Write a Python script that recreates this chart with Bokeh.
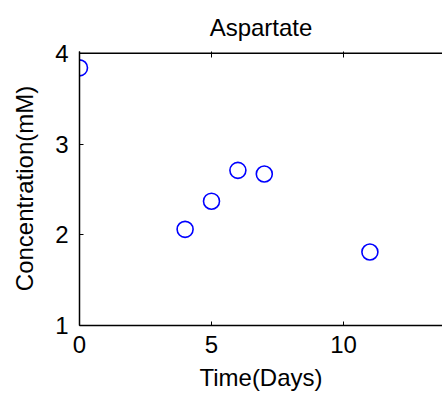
from bokeh.plotting import figure
from bokeh.models import FixedTicker, Range1d, LinearAxis, Span
from bokeh.embed import file_html
from bokeh.resources import INLINE

days = [0, 4, 5, 6, 7, 11]
concentration = [3.84, 2.06, 2.37, 2.71, 2.67, 1.81]
x_ticks = [0, 5, 10]
y_ticks = [1, 2, 3, 4]
x_max = 13.75
y_min, y_max = 1, 4
y_pad = 0.02
title_text = "Aspartate"

FONT = "Liberation Sans"
FS = "24px"

p = figure(width=442, height=402, output_backend="svg", toolbar_location=None,
           x_range=Range1d(0, x_max), y_range=Range1d(y_min, y_max + y_pad),
           min_border_left=79, min_border_right=0, min_border_top=51, min_border_bottom=77)
p.outline_line_color = None
p.xgrid.visible = False
p.ygrid.visible = False
p.background_fill_color = "white"
p.border_fill_color = "white"

for ax in (p.xaxis[0], p.yaxis[0]):
    ax.axis_line_color = "black"
    ax.axis_line_width = 1.5
    ax.major_tick_in = 4
    ax.major_tick_out = 0
    ax.minor_tick_line_color = None
    ax.major_tick_line_color = "black"
    ax.major_label_text_font = FONT
    ax.major_label_text_font_size = FS
    ax.major_label_text_color = "black"
    ax.axis_label_text_font = FONT
    ax.axis_label_text_font_size = FS
    ax.axis_label_text_font_style = "normal"
    ax.axis_label_text_color = "black"

p.xaxis[0].ticker = FixedTicker(ticks=x_ticks)
p.yaxis[0].ticker = FixedTicker(ticks=y_ticks)
p.xaxis[0].axis_label = "Time(Days)"
p.yaxis[0].axis_label = "Concentration(mM)"
p.xaxis[0].major_label_standoff = 10
p.xaxis[0].axis_label_standoff = 8
p.yaxis[0].major_label_standoff = 11
p.yaxis[0].axis_label_standoff = 14

# top axis: inward ticks, its axis label serves as the chart title
top = LinearAxis(ticker=FixedTicker(ticks=x_ticks))
top.axis_line_color = None
top.major_tick_in = 6
top.major_tick_out = 0
top.major_tick_line_color = "black"
top.minor_tick_line_color = None
top.major_label_overrides = {t: "" for t in x_ticks}
top.major_label_text_font_size = "2px"
top.major_label_standoff = 0
top.axis_label = title_text
top.axis_label_text_font = FONT
top.axis_label_text_font_size = FS
top.axis_label_text_font_style = "normal"
top.axis_label_text_color = "black"
top.axis_label_standoff = 11
p.add_layout(top, "above")

# top edge of the axes box
p.add_layout(Span(location=y_max, dimension="width", line_color="black", line_width=1.5))

p.scatter(days, concentration, marker="circle", size=16, fill_color=None,
          line_color="#0000FF", line_width=1.6)

open("out.html", "w").write(file_html(p, INLINE))
